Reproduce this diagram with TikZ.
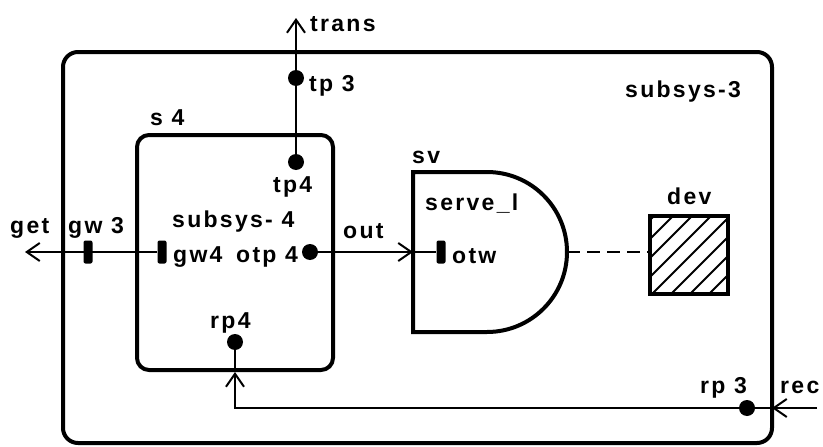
\documentclass[tikz,border=0pt]{standalone}
\usepackage{fontspec}
\setmainfont{Liberation Sans}[LetterSpace=10]
\usetikzlibrary{arrows.meta,calc}
\begin{document}
\begin{tikzpicture}[x=1pt,y=-1pt,
 lbl/.style={anchor=base west, inner sep=0pt, font=\fontsize{23}{25}\selectfont\bfseries},
 frame/.style={draw, line width=4pt, rounded corners=15pt, inner sep=0pt},
 wire/.style={line width=2pt},
 tip/.style={-{Straight Barb[length=13pt,width=18pt,line width=2pt]}},
 dot/.style={circle, fill, inner sep=0pt, minimum size=16pt},
 port/.style={rectangle, fill, rounded corners=2pt, inner sep=0pt, minimum width=9pt, minimum height=23pt}]
\useasboundingbox (0,0) rectangle (823,447);
% frames
\node[frame, minimum width=709pt, minimum height=391pt] (sub3) at (417.5,247.5) {};
\node[frame, rounded corners=12pt, minimum width=196pt, minimum height=235pt] (s4) at (235,252.5) {};
% server shape
\draw[line width=4pt] (413,172) -- (487,172) arc[start angle=90, end angle=-90, radius=80pt] -- (413,332) -- cycle;
\coordinate (svin) at (413,252);
\coordinate (svout) at (567,252);
% device
\node[draw, line width=4pt, minimum size=78pt, inner sep=0pt,
  path picture={\foreach \i in {-114,-95,...,114}
     \draw[line width=2pt] ($(path picture bounding box.south west)+(\i pt,-2pt)$) -- ++(120pt,120pt);}] (dev) at (689,255) {};
% ports
\node[dot] (tp3) at (296,78) {};
\node[dot] (tp4) at (296,162) {};
\node[port] (gw3) at (88,252) {};
\node[port] (gw4) at (162,252) {};
\node[dot] (otp4) at (310,252) {};
\node[port] (otw) at (441,252) {};
\node[dot] (rp4) at (235,342) {};
\node[dot] (rp3) at (747,408) {};
% free ends
\coordinate (transend) at (296,18);
\coordinate (getend) at (25,252);
\coordinate (recstart) at (817,408);
\coordinate (recin) at (772,408);
\coordinate (s4tip) at (235,372);
% connectors
\draw[wire, tip] (tp4) -- (transend);
\draw[wire, tip] (gw4) -- (getend);
\draw[wire, tip] (otp4) -- (svin);
\draw[wire] (svin) -- (otw);
\draw[wire, dash pattern=on 13pt off 7pt] (svout) -- (svout -| dev.west);
\draw[wire, tip] (recstart) -- (recin);
\draw[wire, tip] (recin) -| (s4tip);
\draw[wire] (s4tip) -- (rp4);
% labels
\node[lbl] (ltrans) at (310,31) {trans};
\node[lbl] (ltp3) at (309,91) {tp 3};
\node[lbl] (ls4) at (150,125) {s 4};
\node[lbl] (ltp4) at (273,192) {tp4};
\node[lbl] (lsub3) at (625,97) {subsys-3};
\node[lbl] (lsv) at (412,163) {sv};
\node[lbl] (lserve) at (425,210) {serve\_l};
\node[lbl] (ldev) at (667,204) {dev};
\node[lbl] (lget) at (10,233) {get};
\node[lbl] (lgw3) at (68,233) {gw 3};
\node[lbl] (lsub4) at (172,227) {subsys- 4};
\node[lbl] (lout) at (343,238) {out};
\node[lbl] (lgw4) at (173,262) {gw4};
\node[lbl] (lotp4) at (236,262) {otp 4};
\node[lbl] (lotw) at (452,263) {otw};
\node[lbl] (lrp4) at (210,328) {rp4};
\node[lbl] (lrp3) at (700,393) {rp 3};
\node[lbl] (lrec) at (780,393) {rec};
\end{tikzpicture}
\end{document}
